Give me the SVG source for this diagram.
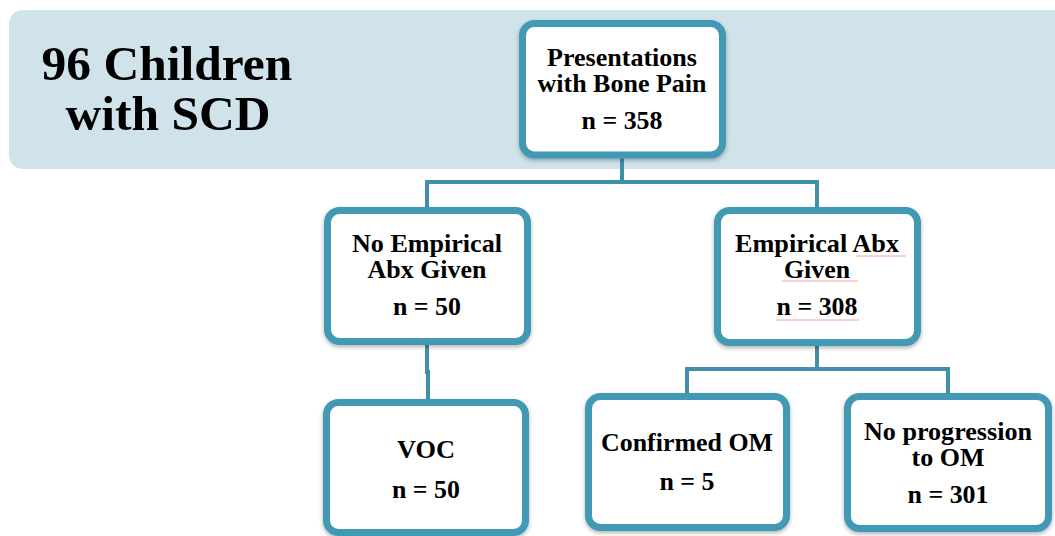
<svg xmlns="http://www.w3.org/2000/svg" width="1055" height="536" viewBox="0 0 1055 536">
<defs>
<filter id="sh" x="-10%" y="-10%" width="120%" height="130%">
<feDropShadow dx="0" dy="2" stdDeviation="2" flood-color="#000" flood-opacity="0.3"/>
</filter>
<style>
.box{fill:#fff;stroke:#4399b4;stroke-width:7;filter:url(#sh)}
.t{font-family:"Liberation Serif","Times New Roman",serif;font-weight:bold;font-size:25px;fill:#000;text-anchor:middle}
.title{font-family:"Liberation Serif","Times New Roman",serif;font-weight:bold;font-size:49.5px;fill:#000;text-anchor:middle}
.con{fill:none;stroke:#3f90a8;stroke-width:4}
.sq{stroke:#f2a3a3;stroke-width:1.2;fill:none}
</style>
</defs>
<rect width="1055" height="536" fill="#fff"/>
<rect id="banner" x="9" y="10" width="1070" height="159" rx="14" fill="#d0e3ea"/>
<text class="title" x="167" y="80">96 Children</text>
<text class="title" x="168" y="130">with SCD</text>
<g id="connectors">
<path class="con" d="M622 158 V182 M425 182 H819 M427 182 V208 M817 182 V208"/>
<path class="con" d="M427 345 V372 H428 V400"/>
<path class="con" d="M817 346 V369 M685 369 H950 M687 369 V394 M948 369 V394"/>
</g>
<g id="n-top">
<rect class="box" x="522.5" y="23.5" width="200" height="131.5" rx="12"/>
<text class="t" x="622" y="66" textLength="150" lengthAdjust="spacingAndGlyphs">Presentations</text>
<text class="t" x="622" y="92" textLength="169" lengthAdjust="spacingAndGlyphs">with Bone Pain</text>
<text class="t" x="622" y="129" textLength="81" lengthAdjust="spacingAndGlyphs">n = 358</text>
</g>
<g id="n-noabx">
<rect class="box" x="327.5" y="210.5" width="200" height="131" rx="12"/>
<text class="t" x="427" y="252" textLength="150" lengthAdjust="spacingAndGlyphs">No Empirical</text>
<text class="t" x="427" y="278" textLength="119" lengthAdjust="spacingAndGlyphs">Abx Given</text>
<text class="t" x="427" y="315" textLength="68" lengthAdjust="spacingAndGlyphs">n = 50</text>
</g>
<g id="n-abx">
<rect class="box" x="717.5" y="210.5" width="200" height="132" rx="12"/>
<text class="t" x="817" y="252" textLength="164" lengthAdjust="spacingAndGlyphs">Empirical Abx</text>
<text class="t" x="817" y="278" textLength="66" lengthAdjust="spacingAndGlyphs">Given</text>
<text class="t" x="817" y="315" textLength="81" lengthAdjust="spacingAndGlyphs">n = 308</text>
<path class="sq" d="M856 256 H906 M782 281 H858 M776 320 H859"/>
</g>
<g id="n-voc">
<rect class="box" x="326.5" y="402.5" width="199" height="130" rx="12"/>
<text class="t" x="426" y="458" textLength="58" lengthAdjust="spacingAndGlyphs">VOC</text>
<text class="t" x="426" y="498" textLength="68" lengthAdjust="spacingAndGlyphs">n = 50</text>
</g>
<g id="n-om">
<rect class="box" x="588.5" y="396.5" width="198" height="131" rx="12"/>
<text class="t" x="687" y="451" textLength="172" lengthAdjust="spacingAndGlyphs">Confirmed OM</text>
<text class="t" x="687" y="490" textLength="55" lengthAdjust="spacingAndGlyphs">n = 5</text>
</g>
<g id="n-noprog">
<rect class="box" x="847.5" y="396.5" width="201" height="132" rx="12"/>
<text class="t" x="948" y="440" textLength="168" lengthAdjust="spacingAndGlyphs">No progression</text>
<text class="t" x="948" y="466" textLength="73" lengthAdjust="spacingAndGlyphs">to OM</text>
<text class="t" x="948" y="503" textLength="81" lengthAdjust="spacingAndGlyphs">n = 301</text>
</g>
</svg>
